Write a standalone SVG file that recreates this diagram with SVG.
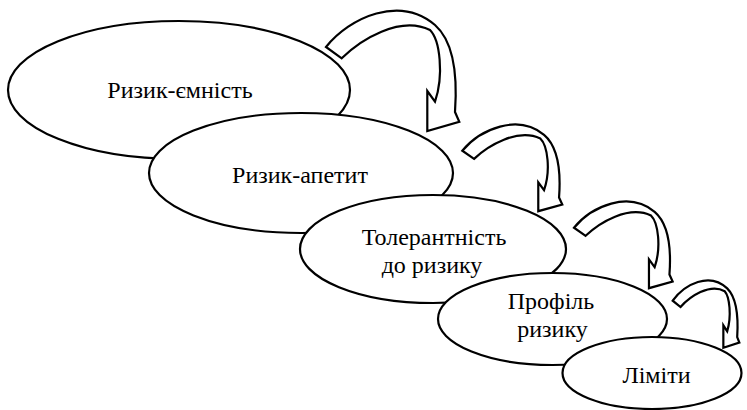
<svg xmlns="http://www.w3.org/2000/svg" width="747" height="410" viewBox="0 0 747 410">
<defs>
<path id="curvedArrow" fill="#fff" stroke="#000" stroke-width="2.2" vector-effect="non-scaling-stroke" d="M0,0 C24,-30 74,-52 109,-22 C126,-7 132,23 129,65 L133.3,74.7 L101.3,84 L101.3,44 L109,54.7 C118,28 114,-7 104,-17 C74,-32 34,-7 15.7,11.3 Z"/>
</defs>
<rect width="747" height="410" fill="#fff"/>
<g id="node-capacity">
<ellipse cx="179" cy="90" rx="171" ry="69" fill="#fff" stroke="#000" stroke-width="2.2"/>
<text x="180" y="98" text-anchor="middle" font-family="Liberation Serif, Times New Roman, serif" font-size="24">Ризик-ємність</text>
</g>
<g id="node-appetite">
<ellipse cx="301" cy="173" rx="152" ry="60" fill="#fff" stroke="#000" stroke-width="2.2"/>
<text x="300" y="183" text-anchor="middle" font-family="Liberation Serif, Times New Roman, serif" font-size="24">Ризик-апетит</text>
</g>
<g id="node-tolerance">
<ellipse cx="433" cy="249" rx="133" ry="54" fill="#fff" stroke="#000" stroke-width="2.2"/>
<text x="434" y="245" text-anchor="middle" font-family="Liberation Serif, Times New Roman, serif" font-size="24">Толерантність</text>
<text x="432" y="273" text-anchor="middle" font-family="Liberation Serif, Times New Roman, serif" font-size="24">до ризику</text>
</g>
<g id="node-profile">
<ellipse cx="552.5" cy="319" rx="114.5" ry="46" fill="#fff" stroke="#000" stroke-width="2.2"/>
<text x="551" y="309" text-anchor="middle" font-family="Liberation Serif, Times New Roman, serif" font-size="24">Профіль</text>
<text x="552.5" y="337" text-anchor="middle" font-family="Liberation Serif, Times New Roman, serif" font-size="24">ризику</text>
</g>
<g id="node-limits">
<ellipse cx="652" cy="373" rx="89.5" ry="36" fill="#fff" stroke="#000" stroke-width="2.2"/>
<text x="656.5" y="383" text-anchor="middle" font-family="Liberation Serif, Times New Roman, serif" font-size="24">Ліміти</text>
</g>
<g id="connectors">
<use href="#curvedArrow" transform="translate(326,47)"/>
<use href="#curvedArrow" transform="translate(462.3,150.7) scale(0.75,0.72)"/>
<use href="#curvedArrow" transform="translate(574,227.7) scale(0.74,0.72)"/>
<use href="#curvedArrow" transform="translate(672.7,300.7) scale(0.5,0.56)"/>
</g>
</svg>
